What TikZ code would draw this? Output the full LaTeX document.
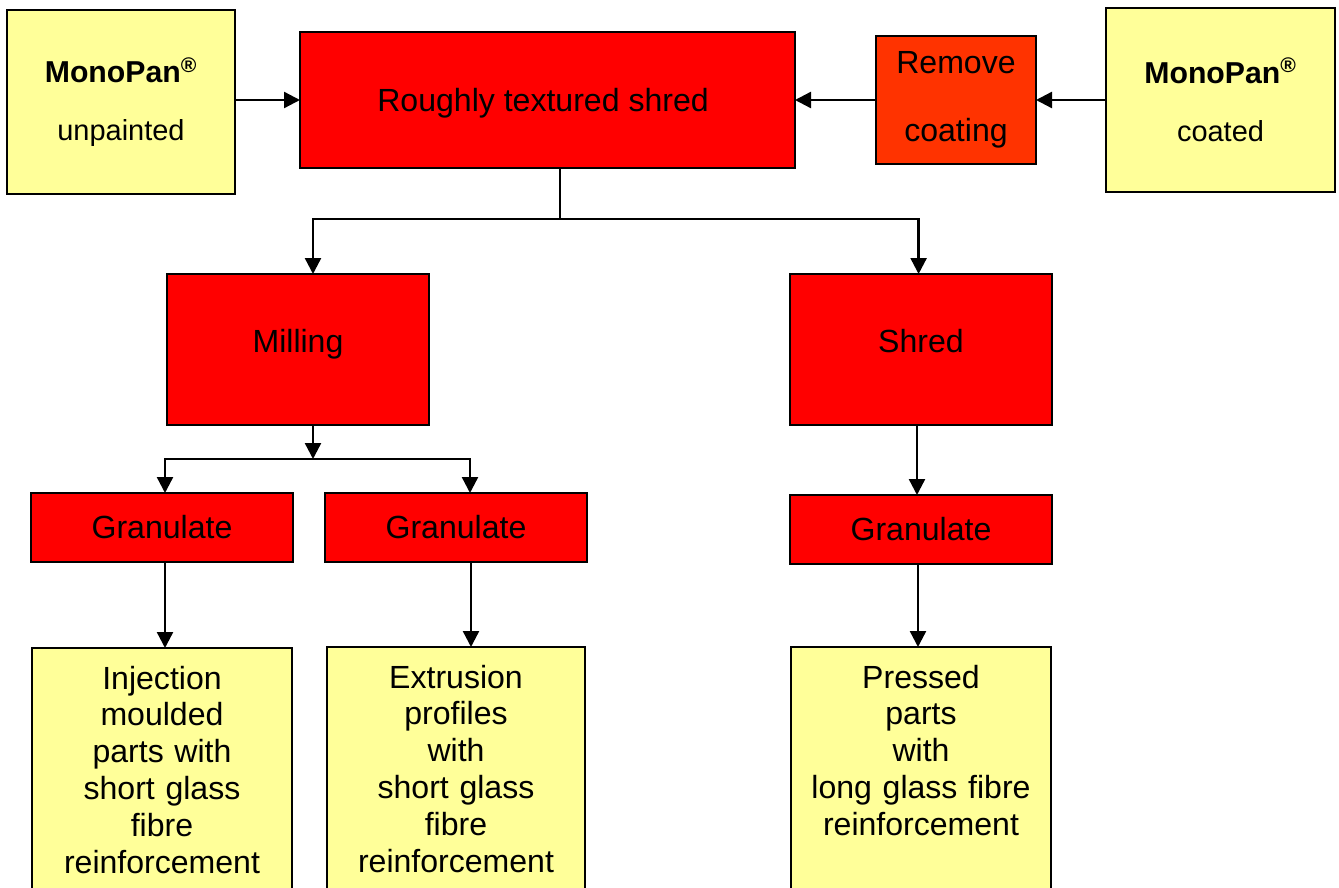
\documentclass[tikz,border=0pt]{standalone}
\usepackage{fontspec}
\setmainfont{Liberation Sans}
\usetikzlibrary{arrows.meta, positioning}
\definecolor{partcolor}{RGB}{255, 255, 153}
\definecolor{stepcolor}{RGB}{255, 0, 0}
\definecolor{stripcolor}{RGB}{255, 51, 0}

\begin{document}
\begin{tikzpicture}[
    % Box styles
    source/.style={
        rectangle,
        draw=black,
        line width=0.05cm,
        fill=partcolor,
        inner sep=0pt,
        outer sep=0pt,
        minimum width=5.7cm,
        minimum height=4.6cm,
        align=center,
        font=\fontsize{20.6}{41.3}\selectfont
    },
    process/.style={
        rectangle,
        draw=black,
        line width=0.05cm,
        fill=stepcolor,
        inner sep=0pt,
        outer sep=0pt,
        minimum width=6.55cm,
        minimum height=3.775cm,
        align=center,
        font=\fontsize{22.8}{26.2}\selectfont
    },
    product/.style={
        rectangle,
        draw=black,
        line width=0.05cm,
        fill=partcolor,
        inner sep=0pt,
        outer sep=0pt,
        text width=6.5cm,
        text height=1.025cm,
        text depth=5.275cm,
        align=center,
        font=\fontsize{22.8}{26.2}\selectfont
    },
    % Connector styles
    arrow/.style={
        -{Triangle[length=0.4cm, width=0.4cm]},
        line width=0.06cm,
        color=black
    },
    branch/.style={
        line width=0.035cm,
        color=black
    }
]

\useasboundingbox (0, 0) rectangle (33.475, -22.2);
\clip (0, 0) rectangle (33.475, -22.2);

% ===== TOP ROW =====

\node[process, minimum width=12.375cm, minimum height=3.4cm,
      text height=0.584cm, text depth=0.02cm] (rough) at (13.6875, -2.5) {
    Roughly textured shred
};

\node[source, left=1.625cm of rough, yshift=-0.05cm] (unpainted) {
    \textbf{\fontsize{21.5}{41.3}\selectfont MonoPan\textsuperscript{\textregistered}}\\
    unpainted
};

\node[process, fill=stripcolor, minimum width=4cm, minimum height=3.2cm,
      font=\fontsize{22.8}{48}\selectfont, right=2.025cm of rough] (remove) {
    Remove\\
    coating
};

\node[source, minimum width=5.725cm, right=1.75cm of remove] (coated) {
    \textbf{\fontsize{21.5}{41.3}\selectfont MonoPan\textsuperscript{\textregistered}}\\
    coated
};

\draw[arrow] (unpainted.east |- rough.west) -- (rough.west);
\draw[arrow] (coated.west |- remove.east) -- (remove.east);
\draw[arrow] (remove) -- (rough);

% ===== SECOND ROW =====

\node[process, text height=0.5cm, text depth=0.375cm,
      below=2.65cm of rough, xshift=-6.2375cm] (milling) {Milling};
\node[process, text height=0.5cm, text depth=0.375cm,
      right=9.025cm of milling] (shred) {Shred};

\coordinate (split) at ([xshift=0.31cm, yshift=-1.275cm]rough.south);
\draw[branch] ([xshift=0.31cm]rough.south) -- (split);
\draw[arrow] (split) -| ([xshift=0.375cm]milling.north);
\draw[arrow] (split) -| ([xshift=-0.06cm]shred.north);

% ===== GRANULATE ROW =====

\node[process, minimum height=1.725cm, below=1.7cm of milling, xshift=-3.4cm] (gran1) {Granulate};
\node[process, minimum height=1.725cm, right=0.8cm of gran1] (gran2) {Granulate};
\node[process, minimum height=1.725cm, below=1.75cm of shred] (gran3) {Granulate};

\coordinate (millsplit) at ([xshift=0.375cm, yshift=-0.85cm]milling.south);
\draw[arrow] ([xshift=0.375cm]milling.south) -- (millsplit);
\draw[arrow] (millsplit) -| ([xshift=0.075cm]gran1.north);
\draw[arrow] (millsplit) -| ([xshift=0.35cm]gran2.north);
\draw[arrow] ([xshift=-0.1cm]gran3.north |- shred.south) -- ([xshift=-0.1cm]gran3.north);

% ===== PRODUCTS =====

\node[product, below=2.15cm of gran1] (inject) {
    Injection\\
    moulded\\
    parts with\\
    short glass\\
    fibre\\
    reinforcement
};

\node[product, text width=6.45cm, below=2.125cm of gran2] (extrude) {
    Extrusion\\
    profiles\\
    with\\
    short glass\\
    fibre\\
    reinforcement
};

\node[product, below=2.075cm of gran3] (pressed) {
    Pressed\\
    parts\\
    with\\
    long glass fibre\\
    reinforcement
};

\draw[arrow] ([xshift=0.075cm]gran1.south) -- ([xshift=0.075cm]gran1.south |- inject.north);
\draw[arrow] ([xshift=0.375cm]gran2.south) -- ([xshift=0.375cm]gran2.south |- extrude.north);
\draw[arrow] ([xshift=-0.075cm]gran3.south) -- ([xshift=-0.075cm]gran3.south |- pressed.north);

\end{tikzpicture}
\end{document}
